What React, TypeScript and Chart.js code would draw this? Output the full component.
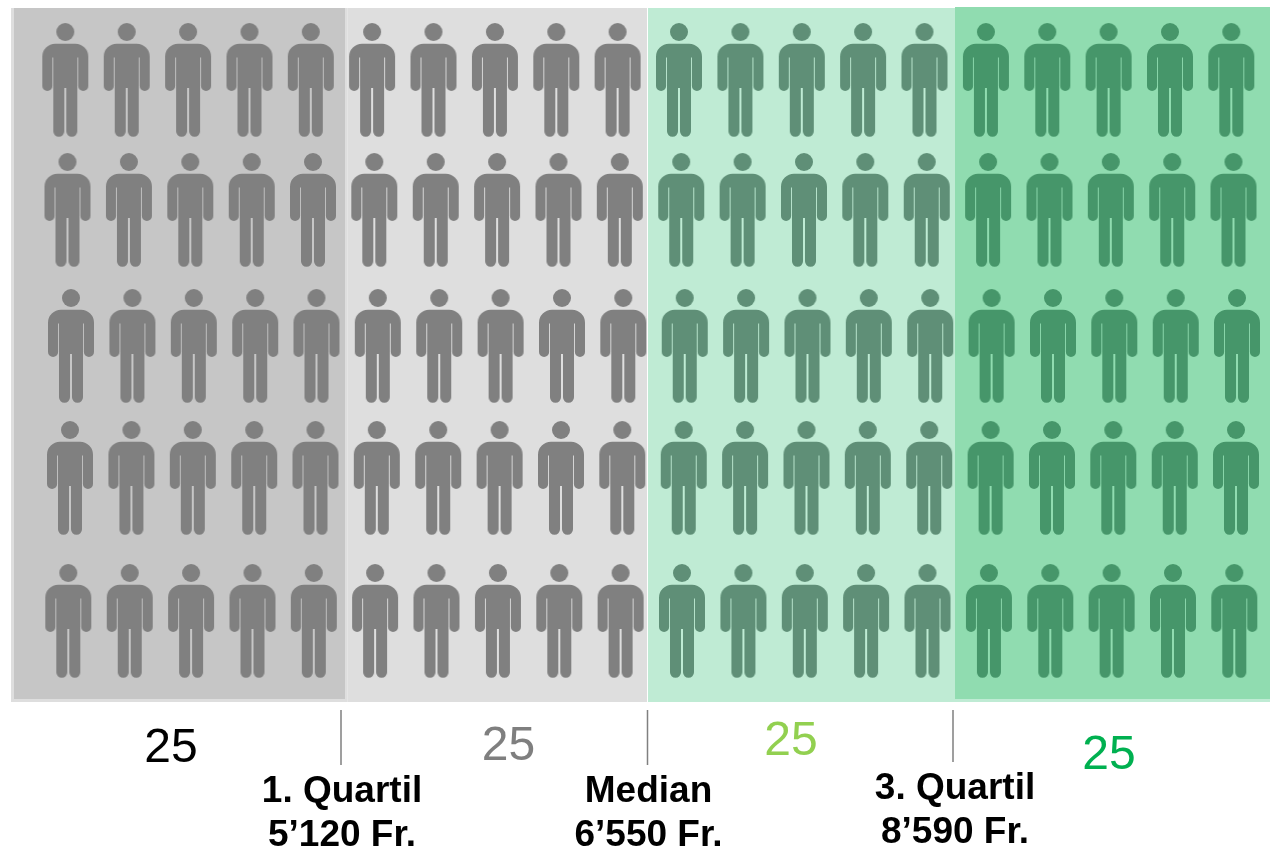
import React, { useEffect, useRef } from "react";
import { Chart, registerables } from "chart.js";

Chart.register(...registerables);

const quartileNames = ["Unter 1. Quartil", "1. Quartil bis Median", "Median bis 3. Quartil", "Über 3. Quartil"];
const peopleColors = ["#808080", "#808080", "#5f8f77", "#46966a"];
const headRowY = [32, 162, 298, 430, 573];
const rowStartX = [65.3, 67.5, 71, 70, 68.3];
const columnOffsets = [
  [0, 61.4, 122.8, 184.2, 245.5],
  [306.8, 368.2, 429.6, 491, 552.3],
  [613.7, 675.1, 736.5, 797.8, 859.2],
  [920.6, 982, 1043.3, 1104.7, 1166],
];

const bandOuterFrom = [11, 347.5, 648, 955];
const bandOuterTo = [347.5, 647, 955, 1270];
const bandOuterTop = [8, 8, 8, 7];
const bandOuterBottom = [702, 702, 702, 702];
const bandOuterColors = ["#dedede", "#dedede", "#bfebd4", "#bfebd4"];
const bandInnerFrom = [14, 955];
const bandInnerTo = [345, 1270];
const bandInnerTop = [8, 7];
const bandInnerBottom = [699, 699];
const bandInnerColors = ["#c6c6c6", "#90dcb0"];

const tickX = [341, 647.5, 953];
const tickTop = [710, 710, 710];
const tickBottom = [765, 765, 762];

const countLabels = ["25", "25", "25", "25"];
const countX = [171, 508.5, 791, 1109];
const countBaseline = [762, 760, 755, 769];
const countColors = ["#000000", "#7f7f7f", "#92d050", "#00b050"];

const markerTitles = ["1. Quartil", "Median", "3. Quartil"];
const markerAmounts = ["5\u2019120 Fr.", "6\u2019550 Fr.", "8\u2019590 Fr."];
const markerX = [342, 648.5, 955];
const markerTitleBaseline = [802, 802, 799];
const markerAmountBaseline = [846, 846, 843];

function personSprite(color: string): HTMLCanvasElement {
  // The head sits at the exact centre of the sprite, so a point's value is its head.
  const c = document.createElement("canvas");
  c.width = 50;
  c.height = 214;
  const g = c.getContext("2d")!;
  g.translate(25, 107);
  g.fillStyle = color;
  g.beginPath();
  g.arc(0, 0, 9, 0, Math.PI * 2);
  g.fill();
  const armOut = 23;
  const armIn = 12.9;
  const torso = 12;
  const legIn = 1;
  const top = 11.7;
  const gapTop = 25.5;
  const armEnd = 59;
  const crotch = 56;
  const foot = 104.8;
  const armR = (armOut - armIn) / 2;
  const legR = (torso - legIn) / 2;
  g.beginPath();
  g.moveTo(0, top);
  g.arcTo(armOut, top, armOut, top + 14, 13);
  g.arcTo(armOut, armEnd, armIn, armEnd, armR);
  g.arcTo(armIn, armEnd, armIn, gapTop, armR);
  g.lineTo(armIn, gapTop);
  g.lineTo(torso, gapTop);
  g.arcTo(torso, foot, legIn, foot, legR);
  g.arcTo(legIn, foot, legIn, crotch, legR);
  g.lineTo(legIn, crotch);
  g.lineTo(-legIn, crotch);
  g.arcTo(-legIn, foot, -torso, foot, legR);
  g.arcTo(-torso, foot, -torso, gapTop, legR);
  g.lineTo(-torso, gapTop);
  g.lineTo(-armIn, gapTop);
  g.arcTo(-armIn, armEnd, -armOut, armEnd, armR);
  g.arcTo(-armOut, armEnd, -armOut, top + 14, armR);
  g.arcTo(-armOut, top, 0, top, 13);
  g.closePath();
  g.fill();
  return c;
}

const textPlugin = {
  id: "quartileText",
  afterDatasetsDraw(chart: any) {
    const { ctx, scales } = chart;
    const px = (v: number) => scales.x.getPixelForValue(v);
    const py = (v: number) => scales.y.getPixelForValue(v);
    ctx.save();
    ctx.textAlign = "center";
    ctx.textBaseline = "alphabetic";
    ctx.font = '48px "Liberation Sans"';
    countLabels.forEach((t, i) => {
      ctx.fillStyle = countColors[i];
      ctx.fillText(t, px(countX[i]), py(countBaseline[i]));
    });
    ctx.font = 'bold 37px "Liberation Sans"';
    ctx.fillStyle = "#000000";
    markerTitles.forEach((t, i) => {
      ctx.fillText(t, px(markerX[i]), py(markerTitleBaseline[i]));
      ctx.fillText(markerAmounts[i], px(markerX[i]), py(markerAmountBaseline[i]));
    });
    ctx.restore();
  },
};

function bandDataset(from: number, to: number, top: number, bottom: number, color: string, order: number, label: string) {
  return {
    type: "bar" as const,
    label,
    data: [{ x: (from + to) / 2, y: [top, bottom] }],
    backgroundColor: color,
    borderWidth: 0,
    inflateAmount: 0,
    barThickness: to - from,
    grouped: false,
    order,
  };
}

export default function App() {
  const ref = useRef<HTMLCanvasElement>(null);

  useEffect(() => {
    const datasets: any[] = [];
    bandOuterFrom.forEach((from, i) =>
      datasets.push(bandDataset(from, bandOuterTo[i], bandOuterTop[i], bandOuterBottom[i], bandOuterColors[i], 6, quartileNames[i]))
    );
    bandInnerFrom.forEach((from, i) =>
      datasets.push(bandDataset(from, bandInnerTo[i], bandInnerTop[i], bandInnerBottom[i], bandInnerColors[i], 5, "Band " + (i + 1)))
    );
    tickX.forEach((x, i) =>
      datasets.push({
        type: "scatter",
        label: markerTitles[i],
        data: [
          { x, y: tickTop[i] },
          { x, y: tickBottom[i] },
        ],
        showLine: true,
        borderColor: "#808080",
        borderWidth: 1.5,
        pointRadius: 0,
        order: 2,
      })
    );
    columnOffsets.forEach((offsets, q) => {
      const sprite = personSprite(peopleColors[q]);
      const points: { x: number; y: number }[] = [];
      headRowY.forEach((y, r) => {
        offsets.forEach((off) => points.push({ x: rowStartX[r] + off, y }));
      });
      datasets.push({
        type: "scatter",
        label: quartileNames[q],
        data: points,
        pointStyle: sprite,
        showLine: false,
        order: 1,
      });
    });

    const chart = new Chart(ref.current!, {
      data: { datasets },
      options: {
        animation: false,
        responsive: false,
        devicePixelRatio: 1,
        layout: { padding: 0, autoPadding: false },
        events: [],
        clip: false,
        scales: {
          x: { type: "linear", min: 0, max: 1270, display: false, offset: false },
          y: { type: "linear", min: 0, max: 849, reverse: true, display: false },
        },
        plugins: { legend: { display: false }, tooltip: { enabled: false }, title: { display: false } },
      } as any,
      plugins: [textPlugin],
    } as any);
    return () => chart.destroy();
  }, []);

  return (
    <canvas
      ref={ref}
      width={1270}
      height={849}
      style={{ position: "absolute", left: 0, top: 0, width: 1270, height: 849, display: "block" }}
    />
  );
}
